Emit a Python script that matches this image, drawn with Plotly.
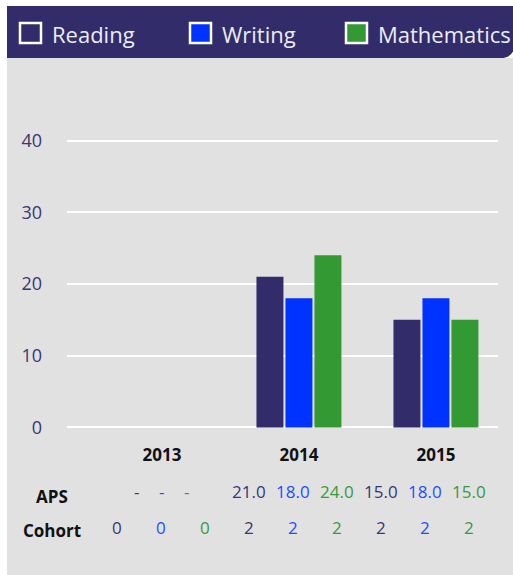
import plotly.graph_objects as go

# ---------------- data ----------------
categories = ["2013", "2014", "2015"]
series_names = ["Reading", "Writing", "Mathematics"]
reading = [None, 21.0, 15.0]
writing = [None, 18.0, 18.0]
mathematics = [None, 24.0, 15.0]
cohort_reading = [0, 2, 2]
cohort_writing = [0, 2, 2]
cohort_mathematics = [0, 2, 2]
y_ticks = [0, 10, 20, 30, 40]
row_labels = ["APS", "Cohort"]

# ---------------- style ----------------
NAVY = "#322c6b"
BLUE = "#0033ff"
GREEN = "#339933"
GREY = "#e1e1e1"
TXT_NAVY = "#3b3672"
TXT_BLUE = "#1f4dff"
TXT_GREEN = "#3a9a3a"
FONT = "Open Sans"

colors = [NAVY, BLUE, GREEN]
text_colors = [TXT_NAVY, TXT_BLUE, TXT_GREEN]
values = [reading, writing, mathematics]
cohorts = [cohort_reading, cohort_writing, cohort_mathematics]

W, H = 513, 575
PAD = 0.5                      # small range padding so edge gridlines are drawn
UNIT = 7.165                   # px per y unit
L, R = 67, 15
T = round(140.7 - PAD * UNIT)
B = round(H - (427.3 + PAD * UNIT))


def px(x):
    return (x - L) / (W - L - R)


def py(y):
    return (H - B - y) / (H - T - B)


x_idx = list(range(len(categories)))

fig = go.Figure()
for name, vals, col in zip(series_names, values, colors):
    fig.add_trace(go.Bar(
        x=x_idx, y=vals, name=name,
        marker=dict(color=col, line=dict(width=0)),
        hoverinfo="skip", showlegend=False,
    ))

shapes = []
annotations = []

# background panel + header band
shapes.append(dict(type="rect", xref="paper", yref="paper", layer="below",
                   x0=px(7), x1=px(W + 2), y0=py(58), y1=py(H + 2),
                   fillcolor=GREY, line=dict(width=0)))
path = (f"M{px(7)},{py(6)} L{px(W + 2)},{py(6)} L{px(W + 2)},{py(45)} "
        f"Q{px(W)},{py(58)} {px(W - 12)},{py(58)} L{px(7)},{py(58)} Z")
shapes.append(dict(type="path", xref="paper", yref="paper", layer="below",
                   path=path, fillcolor=NAVY, line=dict(width=0)))

# manual legend in header
legend_x = [19, 189, 345]
for name, col, lx in zip(series_names, colors, legend_x):
    shapes.append(dict(type="rect", xref="paper", yref="paper", layer="above",
                       x0=px(lx + 1), x1=px(lx + 22), y0=py(23), y1=py(43),
                       fillcolor=col, line=dict(color="white", width=2.5)))
    annotations.append(dict(xref="paper", yref="paper", x=px(lx + 31), y=py(34),
                            xanchor="left", yanchor="middle", showarrow=False,
                            text=name, font=dict(family=FONT, size=22, color="#ececf4")))

# table below chart
for lbl, ly in zip(row_labels, [496, 530]):
    annotations.append(dict(xref="paper", yref="paper", x=px(52), y=py(ly),
                            xanchor="center", yanchor="middle", showarrow=False,
                            text=f"<b>{lbl}</b>",
                            font=dict(family=FONT, size=17, color="#111111")))

for i in range(len(categories)):
    for j in range(len(series_names)):
        k = 3 * i + j
        cx = 117 + 44 * k
        v = values[j][i]
        if v is None:
            txt = "-"
            ax = 117 + 44 * (3 * i + 1) + 25 * (j - 1)
        else:
            txt = f"{v:.1f}"
            ax = cx
        annotations.append(dict(xref="paper", yref="paper", x=px(ax), y=py(492),
                                xanchor="center", yanchor="middle", showarrow=False,
                                text=txt, font=dict(family=FONT, size=17, color=text_colors[j])))
        annotations.append(dict(xref="paper", yref="paper", x=px(cx), y=py(527),
                                xanchor="center", yanchor="middle", showarrow=False,
                                text=str(cohorts[j][i]),
                                font=dict(family=FONT, size=17, color=text_colors[j])))

fig.update_layout(
    width=W, height=H,
    margin=dict(l=L, r=R, t=T, b=B, pad=0),
    paper_bgcolor="white",
    plot_bgcolor="rgba(0,0,0,0)",
    barmode="group", bargap=0.365, bargroupgap=0.07,
    shapes=shapes, annotations=annotations,
    showlegend=False,
    xaxis=dict(range=[-0.693, 2.453], tickmode="array", tickvals=x_idx,
               ticktext=categories, showgrid=False, zeroline=False, showline=False,
               ticks="", ticklabelstandoff=12,
               tickfont=dict(family=FONT, size=17, color="#111111", weight="bold"),
               fixedrange=True),
    yaxis=dict(range=[-PAD, 40 + PAD], tickmode="array", tickvals=y_ticks,
               showgrid=True, gridcolor="white", gridwidth=2, zeroline=False,
               showline=False, ticks="", ticklabelstandoff=24,
               tickfont=dict(family=FONT, size=18, color=TXT_NAVY),
               fixedrange=True),
)

fig.write_html("out.html", config={"displayModeBar": False},
               post_script="document.body.style.margin='0';document.body.style.overflow='hidden';")
